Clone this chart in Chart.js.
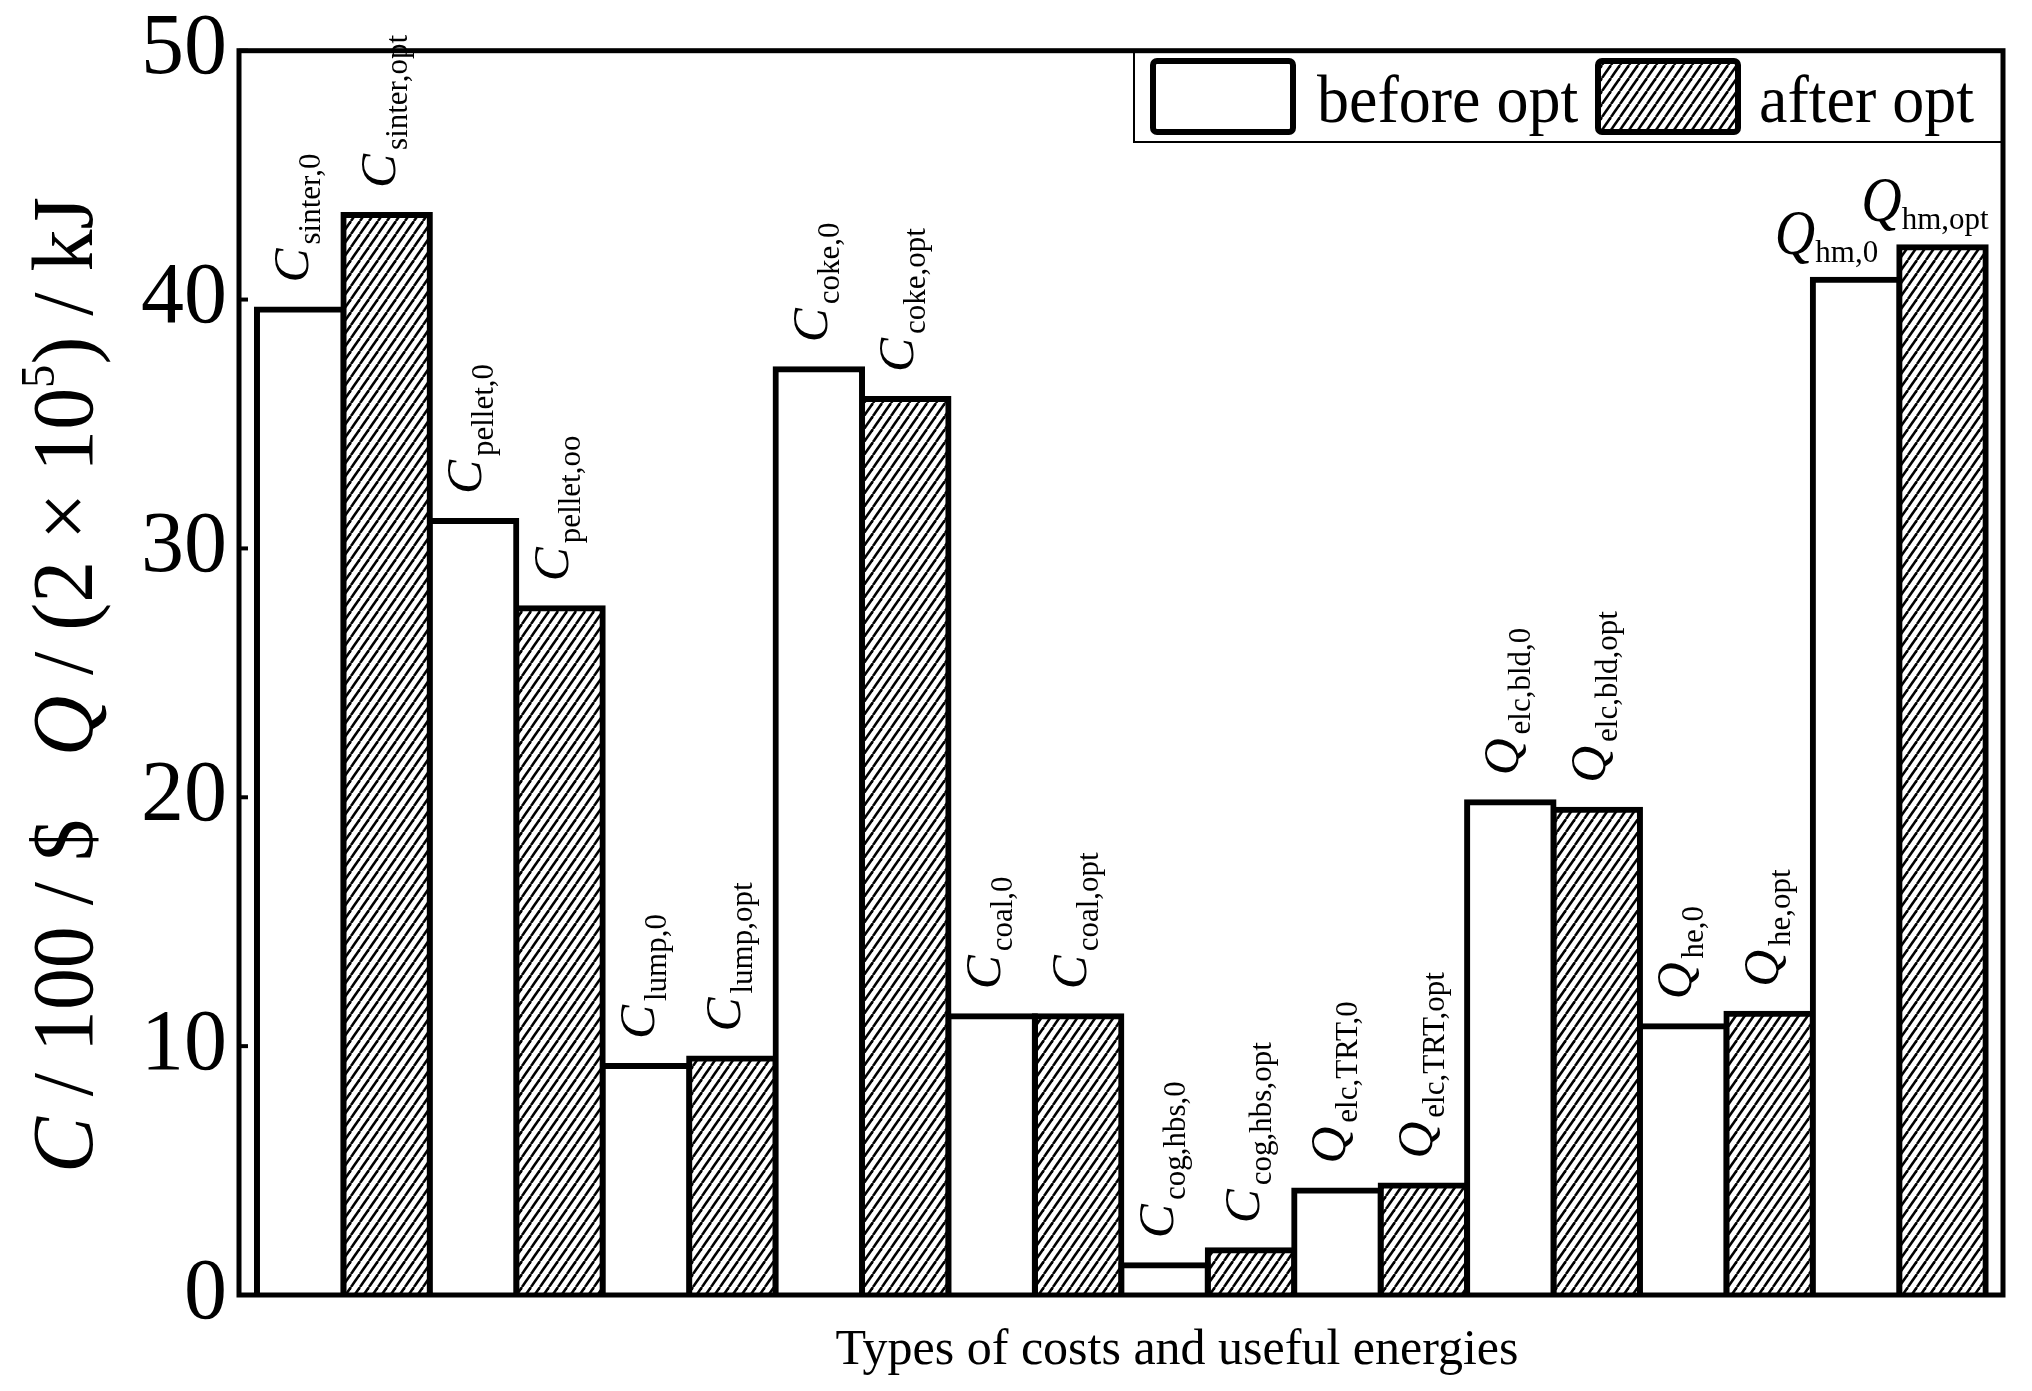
<!DOCTYPE html>
<html><head><meta charset="utf-8">
<script src="https://cdn.jsdelivr.net/npm/chart.js@4.4.1/dist/chart.umd.min.js"></script>
<style>html,body{margin:0;padding:0;background:#fff;} canvas{display:block;}</style>
</head><body>
<canvas id="c" width="2032" height="1391"></canvas>
<script>
// ---------- data ----------
const categories = ['sinter','pellet','lump','coke','coal','cog,hbs','elc,TRT','elc,bld','he','hm'];
const seriesNames = ['before opt','after opt'];
const beforeValues = [39.6, 31.1, 9.2, 37.2, 11.2, 1.2, 4.2, 19.8, 10.8, 40.8];
const afterValues  = [43.4, 27.6, 9.5, 36.0, 11.2, 1.8, 4.4, 19.5, 11.3, 42.1];
const symbols = ['C','C','C','C','C','C','Q','Q','Q','Q'];
const beforeSubs = ['sinter,0','pellet,0','lump,0','coke,0','coal,0','cog,hbs,0','elc,TRT,0','elc,bld,0','he,0','hm,0'];
const afterSubs  = ['sinter,opt','pellet,oo','lump,opt','coke,opt','coal,opt','cog,hbs,opt','elc,TRT,opt','elc,bld,opt','he,opt','hm,opt'];
const yTicks = [0, 10, 20, 30, 40, 50];
const xTitle = 'Types of costs and useful energies';

// ---------- style ----------
const FONT = '"Liberation Serif", "Times New Roman", serif';
const labelRotated = [true,true,true,true,true,true,true,true,true,false];

const canvas = document.getElementById('c');
const ctx = canvas.getContext('2d');

function makeHatch() {
  const w = 9, h = 13;
  const t = document.createElement('canvas');
  t.width = w; t.height = h;
  const g = t.getContext('2d');
  g.fillStyle = '#fff'; g.fillRect(0, 0, w, h);
  g.strokeStyle = '#000'; g.lineWidth = 2.6;
  for (const k of [-1, 0, 1]) {
    g.beginPath(); g.moveTo(k * w, h); g.lineTo(w + k * w, 0); g.stroke();
  }
  return ctx.createPattern(t, 'repeat');
}
const hatch = makeHatch();

function drawSegments(c, segs) {
  let x = 0;
  for (const s of segs) {
    c.font = s.font;
    c.save();
    if (s.sy) { c.translate(x, s.dy || 0); c.scale(1, s.sy); c.fillText(s.text, 0, 0); }
    else c.fillText(s.text, x, s.dy || 0);
    c.restore();
    x += c.measureText(s.text).width + (s.gap || 0);
  }
}
function segWidth(c, segs) {
  let w = 0;
  for (const s of segs) { c.font = s.font; w += c.measureText(s.text).width + (s.gap || 0); }
  return w;
}

const decorPlugin = {
  id: 'decor',
  afterDatasetsDraw(chart) {
    const c = chart.ctx;
    const a = chart.chartArea;
    const yScale = chart.scales.y;
    c.save();
    c.fillStyle = '#000';
    c.textAlign = 'left';
    c.textBaseline = 'alphabetic';

    // bar labels
    const mainFont = 'italic 51px ' + FONT;
    const mainFontH = 'italic 56px ' + FONT;
    const subFont = '31px ' + FONT;
    [beforeSubs, afterSubs].forEach((subs, d) => {
      const meta = chart.getDatasetMeta(d);
      meta.data.forEach((bar, i) => {
        const p = bar.getProps(['x', 'y', 'width'], true);
        c.save();
        if (labelRotated[i]) {
          c.translate(p.x + 8, p.y - 27);
          c.rotate(-Math.PI / 2);
          drawSegments(c, [
            { text: symbols[i], font: mainFont, gap: 4 },
            { text: subs[i], font: subFont, dy: 12 }
          ]);
        } else {
          c.translate(p.x - p.width / 2 - 38, p.y - 26);
          drawSegments(c, [
            { text: symbols[i], font: mainFontH, gap: 0, sy: 1.15 },
            { text: subs[i], font: subFont, dy: 8 }
          ]);
        }
        c.restore();
      });
    });

    // legend
    const lx = 1134, ly = a.top, lr = a.right, lb = 142;
    c.fillStyle = '#fff';
    c.fillRect(lx, ly, lr - lx, lb - ly);
    c.strokeStyle = '#000';
    c.lineWidth = 2;
    c.strokeRect(lx, ly, lr - lx, lb - ly);
    const boxes = [
      { x: 1153, fill: chart.data.datasets[0].backgroundColor, tx: 1317, text: chart.data.datasets[0].label },
      { x: 1598, fill: chart.data.datasets[1].backgroundColor, tx: 1759, text: chart.data.datasets[1].label }
    ];
    for (const b of boxes) {
      c.beginPath();
      c.roundRect(b.x, 61, 140, 71, 4);
      c.fillStyle = b.fill; c.fill();
      c.lineWidth = 6; c.strokeStyle = '#000'; c.stroke();
      c.fillStyle = '#000';
      c.font = '64px ' + FONT;
      c.save();
      c.translate(b.tx, 122);
      c.scale(1, 1.06);
      c.fillText(b.text, 0, 0);
      c.restore();
    }

    // frame
    c.lineWidth = 5;
    c.strokeStyle = '#000';
    c.strokeRect(a.left, a.top, a.right - a.left, a.bottom - a.top);

    // inward ticks
    c.lineWidth = 4;
    for (const v of yTicks) {
      const y = yScale.getPixelForValue(v);
      c.beginPath(); c.moveTo(a.left, y); c.lineTo(a.left + 9, y); c.stroke();
    }

    // y title
    const big = 86;
    const reg = big + 'px ' + FONT, ita = 'italic ' + big + 'px ' + FONT, sup = '48px ' + FONT;
    const tsegs = [
      { text: 'C', font: ita },
      { text: ' / 100 / $', font: reg },
      { text: '   ', font: reg },
      { text: 'Q', font: ita },
      { text: ' / (2 \u00D7 10', font: reg },
      { text: '5', font: sup, dy: -38 },
      { text: ') / kJ', font: reg }
    ];
    const tw = segWidth(c, tsegs);
    const yStart = 1173, yEnd = 197;
    c.save();
    c.fillStyle = '#000';
    c.translate(92, yStart);
    c.rotate(-Math.PI / 2);
    c.scale((yStart - yEnd) / tw, 1);
    drawSegments(c, tsegs);
    c.restore();

    // x title
    c.font = '50px ' + FONT;
    c.textAlign = 'center';
    c.fillStyle = '#000';
    c.fillText(xTitle, 1177, 1364);
    c.restore();
  }
};

const barStyle = { borderColor: '#000', borderWidth: 6, inflateAmount: 3, borderSkipped: 'start',
                   categoryPercentage: 1, barPercentage: 1 };

new Chart(ctx, {
  type: 'bar',
  data: {
    datasets: [
      Object.assign({ label: seriesNames[0], data: beforeValues.map((v, i) => ({ x: i, y: v })), backgroundColor: '#fff' }, barStyle),
      Object.assign({ label: seriesNames[1], data: afterValues.map((v, i) => ({ x: i, y: v })), backgroundColor: hatch }, barStyle)
    ]
  },
  options: {
    responsive: false,
    animation: false,
    devicePixelRatio: 1,
    layout: { padding: { left: 0, top: 45, right: 29, bottom: 96 } },
    plugins: { legend: { display: false }, tooltip: { enabled: false } },
    scales: {
      x: {
        type: 'linear', min: -0.604, max: 9.6, offset: false, display: false,
        afterBuildTicks: s => { s.ticks = categories.map((c, i) => ({ value: i })); }
      },
      y: {
        min: 0, max: 50, position: 'left',
        grid: { display: false, drawTicks: false },
        border: { display: false },
        afterFit: s => { s.width = 239; },
        afterBuildTicks: s => { s.ticks = yTicks.map(v => ({ value: v })); },
        ticks: { font: { family: FONT, size: 86, lineHeight: 0.9 }, color: '#000', padding: 12 }
      }
    }
  },
  plugins: [decorPlugin]
});
</script>
</body></html>
